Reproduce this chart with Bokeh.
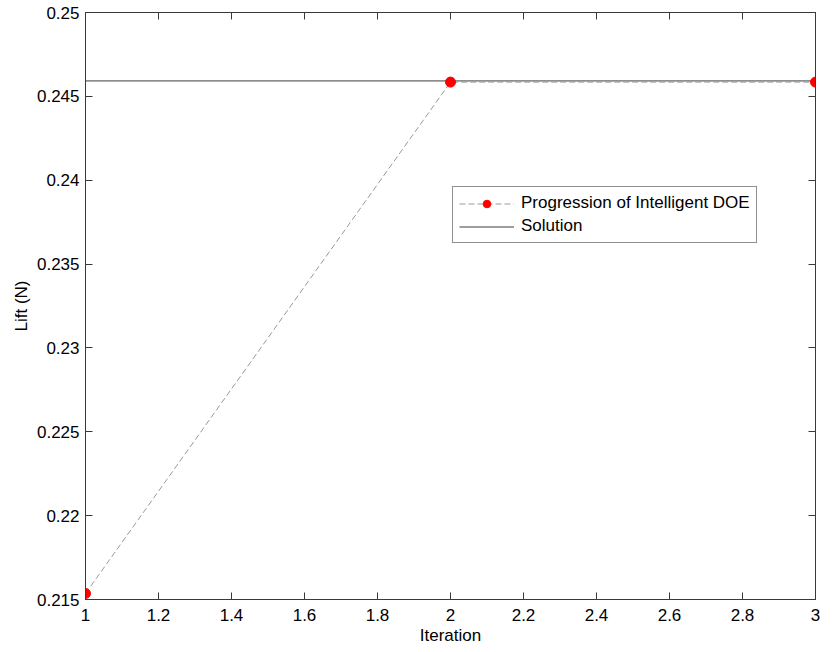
from bokeh.plotting import figure
from bokeh.models import Range1d, LinearAxis, FixedTicker, Legend, LegendItem
from bokeh.embed import file_html
from bokeh.resources import INLINE

# ---- data ----
iterations = [1, 2, 3]
lift_doe = [0.21536, 0.24585, 0.24585]
solution_x = [1, 3]
solution_y = [0.24592, 0.24592]

x_ticks = [1, 1.2, 1.4, 1.6, 1.8, 2, 2.2, 2.4, 2.6, 2.8, 3]
x_tick_labels = ["1", "1.2", "1.4", "1.6", "1.8", "2", "2.2", "2.4", "2.6", "2.8", "3"]
y_ticks = [0.215, 0.22, 0.225, 0.23, 0.235, 0.24, 0.245, 0.25]
y_tick_labels = ["0.215", "0.22", "0.225", "0.23", "0.235", "0.24", "0.245", "0.25"]

FONT = "Liberation Sans"
FS = "17px"
AX = "#3a3a3a"

p = figure(width=820, height=648, output_backend="svg", toolbar_location=None,
           x_range=Range1d(1, 3), y_range=Range1d(0.215, 0.25),
           min_border_left=85, min_border_right=5, min_border_top=12, min_border_bottom=49)
p.xgrid.visible = False
p.ygrid.visible = False
p.outline_line_color = AX
p.outline_line_width = 1
p.background_fill_color = "white"
p.border_fill_color = "white"

def style_axis(ax, ticks, labels, show_labels=True):
    ax.ticker = FixedTicker(ticks=ticks)
    ax.major_tick_in = 7
    ax.major_tick_out = 0
    ax.minor_tick_in = 0
    ax.minor_tick_out = 0
    ax.axis_line_color = AX
    ax.major_tick_line_color = AX
    ax.major_label_text_font = FONT
    ax.major_label_text_color = "black"
    if show_labels:
        ax.major_label_overrides = {t: l for t, l in zip(ticks, labels)}
        ax.major_label_text_font_size = FS
        ax.major_label_standoff = 9
    else:
        ax.major_label_overrides = {t: "" for t in ticks}
        ax.major_label_text_font_size = "1px"
        ax.major_label_standoff = 0

style_axis(p.xaxis[0], x_ticks, x_tick_labels)
style_axis(p.yaxis[0], y_ticks, y_tick_labels)
p.yaxis[0].major_label_standoff = 6
p.xaxis[0].axis_label = "Iteration"
p.yaxis[0].axis_label = "Lift (N)"
for ax in (p.xaxis[0], p.yaxis[0]):
    ax.axis_label_text_font = FONT
    ax.axis_label_text_font_size = FS
    ax.axis_label_text_font_style = "normal"
    ax.axis_label_text_color = "black"
p.xaxis[0].axis_label_standoff = 2
p.yaxis[0].axis_label_standoff = 3

top_ax = LinearAxis()
style_axis(top_ax, x_ticks, x_tick_labels, show_labels=False)
p.add_layout(top_ax, "above")
right_ax = LinearAxis()
style_axis(right_ax, y_ticks, y_tick_labels, show_labels=False)
p.add_layout(right_ax, "right")

sol = p.line(solution_x, solution_y, line_color="#3c3c3c", line_width=1)
doe_line = p.line(iterations, lift_doe, line_color="#9a9a9a", line_width=1, line_dash="6 3")
doe_pts = p.scatter(iterations, lift_doe, size=10, fill_color="#ff0000", line_color="#ff0000")

legend = Legend(items=[
    LegendItem(label="Progression of Intelligent DOE", renderers=[doe_line, doe_pts]),
    LegendItem(label="Solution", renderers=[sol]),
], location=(367, 356))
legend.label_text_font = FONT
legend.label_text_font_size = FS
legend.label_text_color = "black"
legend.glyph_width = 55
legend.glyph_height = 19
legend.label_height = 19
legend.label_standoff = 7
legend.padding = 6
legend.spacing = 3
legend.margin = 0
legend.border_line_color = "#222222"
legend.border_line_width = 1
legend.background_fill_color = "white"
legend.background_fill_alpha = 1
p.add_layout(legend, "center")

open("out.html", "w").write(file_html(p, INLINE))
